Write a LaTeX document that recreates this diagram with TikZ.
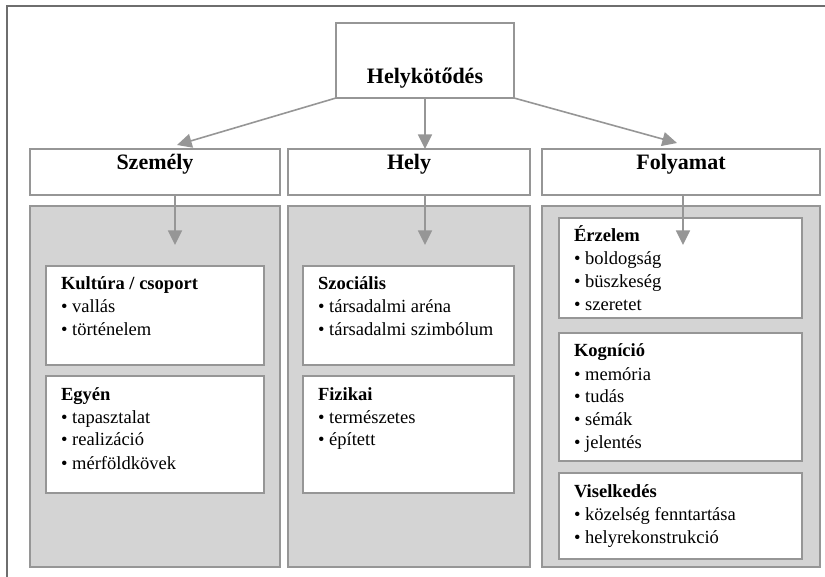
\documentclass[tikz,border=0pt]{standalone}
\usepackage{fontspec}
\setmainfont{Liberation Serif}
\usetikzlibrary{arrows.meta,calc,fit}
\definecolor{panelgray}{RGB}{212,212,212}
\definecolor{linegray}{RGB}{150,150,150}
\definecolor{framegray}{RGB}{110,110,110}
\newcommand{\boxtext}[2]{\vtop{\hbox{\textbf{#1}}#2}}
\newcommand{\bul}[1]{\hbox{• #1}}

\begin{document}
\begin{tikzpicture}[x=0.75pt,y=-0.75pt,inner sep=0pt,outer sep=0pt,
	box/.style={draw=linegray,line width=1pt,fill=white},
	panel/.style={draw=linegray,line width=1pt,fill=panelgray},
	head/.style={font=\fontsize{16.5}{20}\selectfont\bfseries},
	items/.style={anchor=base west,font=\fontsize{13.9}{17.25}\selectfont}]
	\useasboundingbox (0,0) rectangle (825,577);
	\draw[framegray,line width=1.3pt] (7,577) -- (7,6) -- (825,6);
	% top and columns
	\node[box,fit={(336,23) (514,98)}] (helyk) {};
	\node[head] (helykt) at ($(helyk.center)+(0,18)$) {Helykötődés};
	\node[box,head,fit={(30,149) (280,195)}] (szem) {Személy};
	\node[box,head,fit={(288,149) (530,195)}] (hely) {Hely};
	\node[box,head,fit={(542,149) (820,195)}] (foly) {Folyamat};
	\node[panel,fit={(30,206) (280,567)}] (szemp) {};
	\node[panel,fit={(288,206) (530,567)}] (helyp) {};
	\node[panel,fit={(542,206) (820,567)}] (folyp) {};
	% inner boxes
	\node[box,fit={(46,266) (264,365)}] (kult) {};
	\node[box,fit={(46,376) (264,493)}] (egyen) {};
	\node[box,fit={(303,266) (514,365)}] (szoc) {};
	\node[box,fit={(303,376) (514,493)}] (fiz) {};
	\node[box,fit={(559,218) (802,318)}] (erz) {};
	\node[box,fit={(559,333) (802,461)}] (kogn) {};
	\node[box,fit={(559,473) (802,559)}] (visel) {};
	\node[items] (kultt) at ($(kult.north west)+(15,24)$)
		{\boxtext{Kultúra / csoport}{\bul{vallás}\bul{történelem}}};
	\node[items] (egyent) at ($(egyen.north west)+(15,24)$)
		{\boxtext{Egyén}{\bul{tapasztalat}\bul{realizáció}\bul{mérföldkövek}}};
	\node[items] (szoct) at ($(szoc.north west)+(15,24)$)
		{\boxtext{Szociális}{\bul{társadalmi aréna}\bul{társadalmi szimbólum}}};
	\node[items] (fizt) at ($(fiz.north west)+(15,24)$)
		{\boxtext{Fizikai}{\bul{természetes}\bul{épített}}};
	\node[items] (erzt) at ($(erz.north west)+(15,24)$)
		{\boxtext{Érzelem}{\bul{boldogság}\bul{büszkeség}\bul{szeretet}}};
	\node[items] (kognt) at ($(kogn.north west)+(15,24)$)
		{\boxtext{Kogníció}{\bul{memória}\bul{tudás}\bul{sémák}\bul{jelentés}}};
	\node[items] (viselt) at ($(visel.north west)+(15,24)$)
		{\boxtext{Viselkedés}{\bul{közelség fenntartása}\bul{helyrekonstrukció}}};
	\coordinate (szemt) at (175,245);
	\coordinate (helyt) at (425,245);
	\coordinate (folyt) at (683,245);
	\begin{scope}[linegray,line width=1.2pt,-{Triangle[width=10.5pt,length=11pt]}]
	\draw (helyk.south west) -- ($(szem.north)+(22,-4)$);
	\draw (helyk.south) -- (helyk.south |- hely.north);
	\draw (helyk.south east) -- ($(foly.north)+(-4,-6)$);
	\draw (szem.south -| szemt) -- (szemt);
	\draw (hely.south -| helyt) -- (helyt);
	\draw (foly.south -| folyt) -- (folyt);
	\end{scope}
\end{tikzpicture}
\end{document}
